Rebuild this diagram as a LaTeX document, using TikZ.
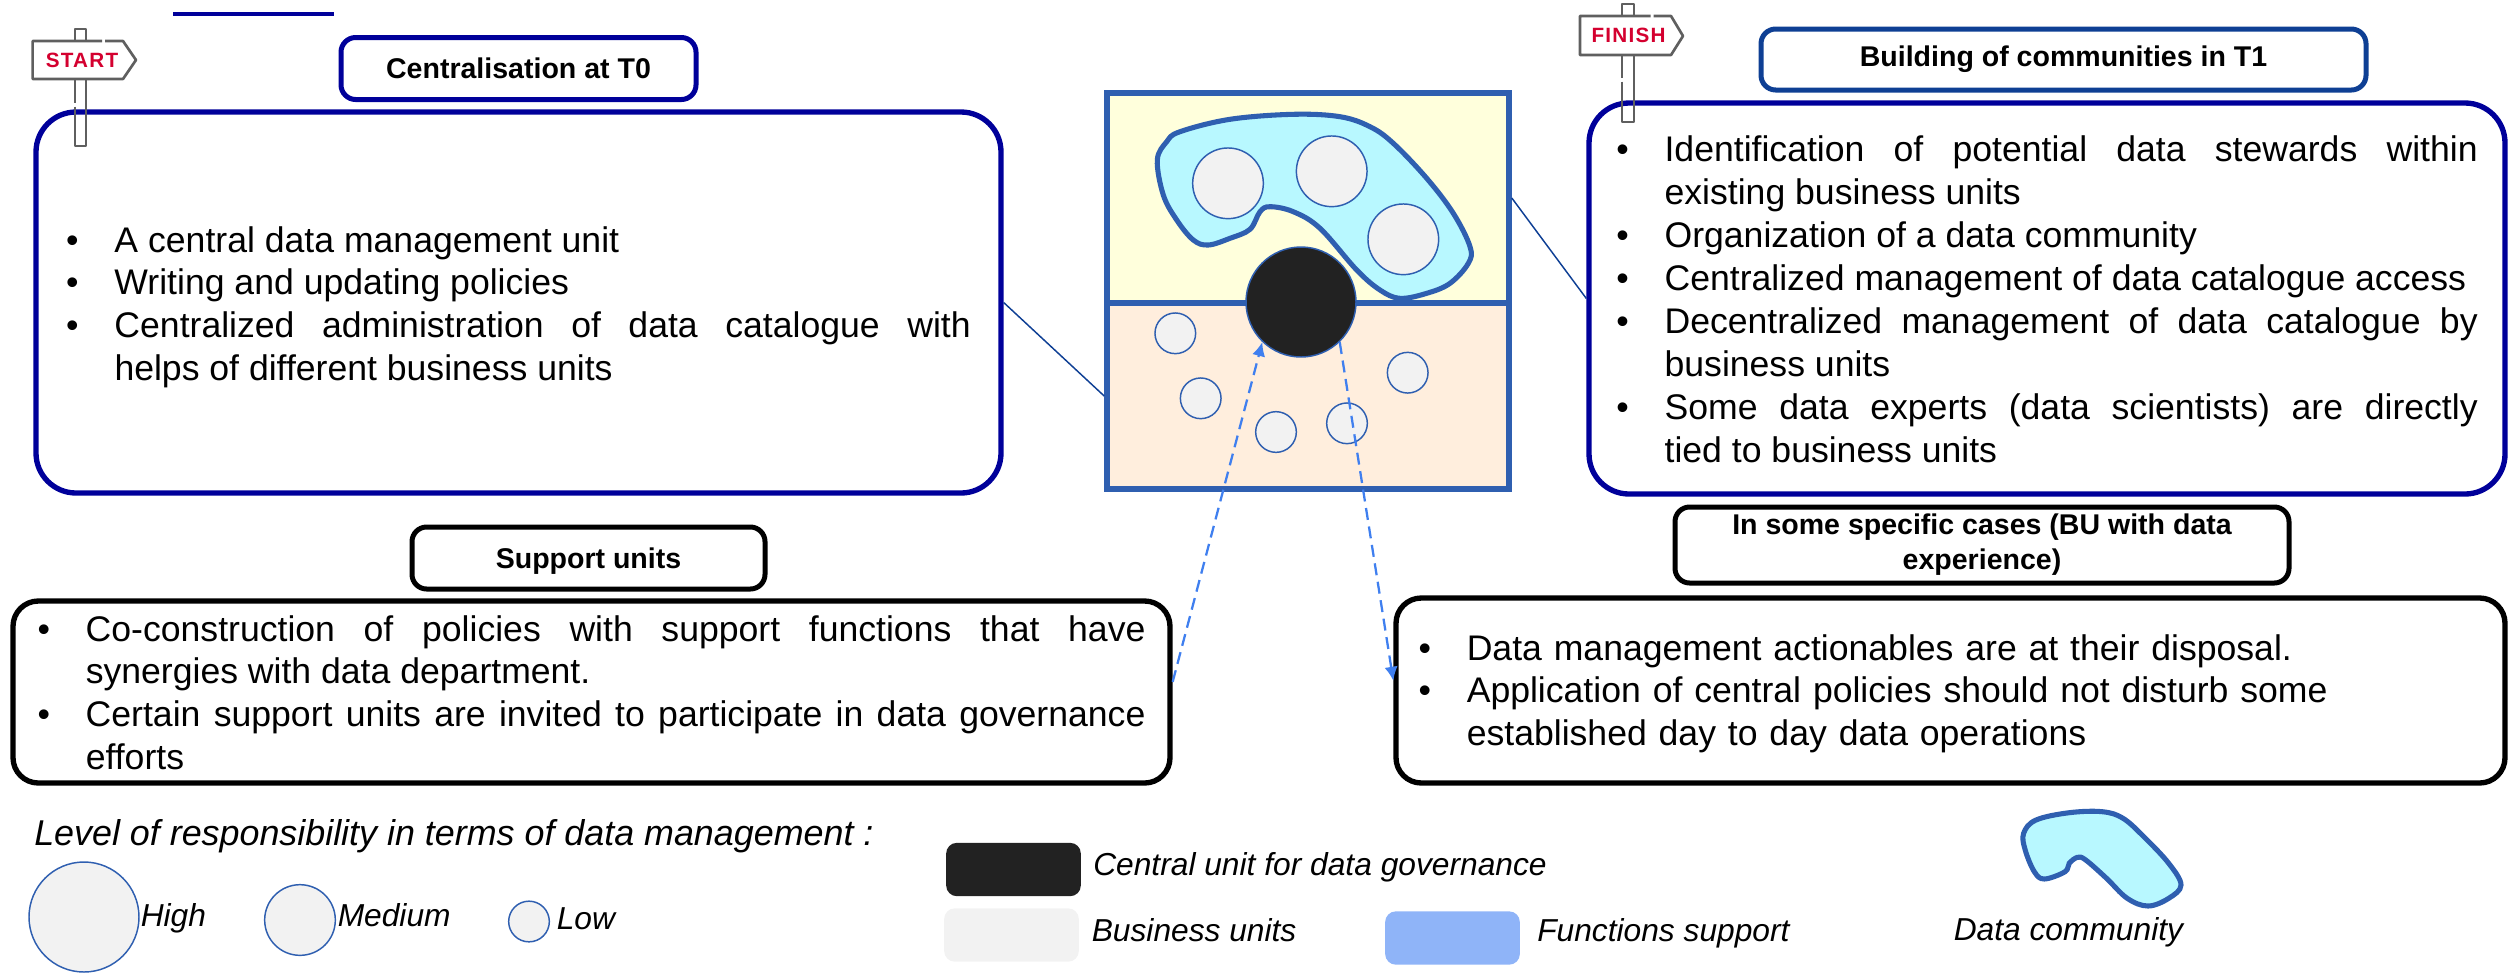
\documentclass[tikz,border=0pt]{standalone}
\usepackage{fontspec}
\usepackage{xcolor}
\usetikzlibrary{arrows.meta}
\setmainfont{Liberation Sans}
\newfontfamily\signfont[LetterSpace=6]{Liberation Sans}
\definecolor{navyline}{HTML}{00009A}
\definecolor{headline}{HTML}{0E3F94}
\definecolor{squareline}{HTML}{2F5FB0}
\definecolor{upperfill}{HTML}{FFFFDC}
\definecolor{lowerfill}{HTML}{FFEEDD}
\definecolor{aquafill}{HTML}{B8F8FF}
\definecolor{unitfill}{HTML}{F2F2F2}
\definecolor{coalfill}{HTML}{222222}
\definecolor{dashblue}{HTML}{3F7FEF}
\definecolor{supportfill}{HTML}{8FB4F8}
\definecolor{postgray}{HTML}{5F5F5F}
\definecolor{signred}{HTML}{D4002F}
\tolerance=9999
\hyphenpenalty=10000
\newcommand{\listitem}[1]{\hangindent=36.2pt\hangafter=1\noindent\hbox to 36.2pt{\textbullet\hfil}#1\par}
\tikzset{
	listbox/.style={draw,line width=4pt,inner sep=0pt,font=\fontsize{26.7}{32.2}\selectfont},
	headbox/.style={draw,line width=3.75pt,rounded corners=11pt,inner sep=0pt,align=center,font=\bfseries\fontsize{21.4}{25.5}\selectfont},
	legendtext/.style={anchor=base west,inner sep=0pt,font=\itshape\fontsize{23.8}{28}\selectfont},
	unitdot/.style={circle,draw=squareline,fill=unitfill,line width=1.1pt,inner sep=0pt},
	legendbox/.style={rectangle,rounded corners=8pt,inner sep=0pt,minimum width=101pt,minimum height=40pt},
	signtext/.style={anchor=center,inner sep=0pt,text=signred,font=\signfont\bfseries\fontsize{15.5}{16}\selectfont},
	signline/.style={draw=postgray,line width=2pt,line join=round},
	community/.style={draw=squareline,fill=aquafill,line width=3.8pt},
	dashlink/.style={draw=dashblue,line width=1.7pt,dash pattern={on 9pt off 5pt}},
}

\begin{document}
\begin{tikzpicture}[x=0.75pt,y=0.75pt,yscale=-1,xscale=1]
	\useasboundingbox (0,0) rectangle (2509,972);
	\coordinate (ruleleft) at (173,14);
	\coordinate (ruleright) at (334,14);
	\draw [navyline,line width=3pt] (ruleleft) -- (ruleright) ;
	\draw (1308,198) node (upperpart) [rectangle,draw=squareline,fill=upperfill,line width=4.2pt,minimum width=301.5pt,minimum height=157.5pt] {};
	\draw (1308,396) node (lowerpart) [rectangle,draw=squareline,fill=lowerfill,line width=4.2pt,minimum width=301.5pt,minimum height=139.5pt] {};
	\draw [community] plot [smooth cycle,tension=0.6] coordinates {(1157.3,160) (1166.7,141.7) (1180,131.7) (1230,119.3) (1293.3,114.3) (1340,116.7) (1370,126.7) (1393.3,143.3) (1426.7,178.3) (1453.3,213.3) (1470,246.7) (1468.3,263.3) (1450,283.3) (1426.7,293.3) (1400,298.3) (1380,290) (1356.7,270) (1320,228.3) (1293.3,211.7) (1270,206.7) (1260,211.7) (1250,229.3) (1230,238.3) (1208.3,245) (1193.3,240) (1176.7,220) (1163.3,195)};
	\draw (1228,183.3) node (communityone) [unitdot,minimum size=53pt] {};
	\draw (1331.7,171.3) node (communitytwo) [unitdot,minimum size=53pt] {};
	\draw (1403.3,239.3) node (communitythree) [unitdot,minimum size=53pt] {};
	\draw (1175.3,333.3) node (unitone) [unitdot,minimum size=30.5pt] {};
	\draw (1200.7,398.3) node (unittwo) [unitdot,minimum size=30.5pt] {};
	\draw (1276,432) node (unitthree) [unitdot,minimum size=30.5pt] {};
	\draw (1347,423.3) node (unitfour) [unitdot,minimum size=30.5pt] {};
	\draw (1407.7,372.7) node (unitfive) [unitdot,minimum size=30.5pt] {};
	\draw (1301,302) node (centralunit) [circle,draw=squareline,fill=coalfill,line width=1.1pt,inner sep=0pt,minimum size=82.5pt] {};
	\draw (518.5,302.5) node (centralbox) [listbox,draw=navyline,rounded corners=30pt,minimum width=723.75pt,minimum height=285.75pt,text width=678.4pt,align=justify,text height=0pt,text depth=75.75pt] {\listitem{A central data management unit}
		\listitem{Writing and updating policies}
		\listitem{Centralized administration of data catalogue with\linebreak helps of different business units}};
	\draw (2047,298.5) node (communitybox) [listbox,draw=navyline,rounded corners=30pt,minimum width=687pt,minimum height=293.25pt,text width=646pt,align=justify,text height=0pt,text depth=205.2pt] {\listitem{Identification of potential data stewards within\linebreak existing business units}
		\listitem{Organization of a data community}
		\listitem{Centralized management of data catalogue access}
		\listitem{Decentralized management of data catalogue by\linebreak business units}
		\listitem{Some data experts (data scientists) are directly\linebreak tied to business units}};
	\draw (591.5,692) node (supportbox) [listbox,draw=black,rounded corners=19pt,minimum width=867.75pt,minimum height=136.5pt,text width=831pt,align=justify,text height=0pt,text depth=76.5pt] {\listitem{Co-construction of policies with support functions that have\linebreak synergies with data department.}
		\listitem{Certain support units are invited to participate in data governance\linebreak efforts}};
	\draw (1950.5,690.5) node (casesbox) [listbox,draw=black,rounded corners=19pt,minimum width=831.75pt,minimum height=138.75pt,text width=798pt,align=left,text height=0pt,text depth=45.75pt] {\listitem{Data management actionables are at their disposal.}
		\listitem{Application of central policies should not disturb some\newline established day to day data operations}};
	\draw (518.5,68.5) node (centralhead) [headbox,draw=navyline,minimum width=266.25pt,minimum height=46.5pt] {Centralisation at T0};
	\draw (2063.5,59.5) node (communityhead) [headbox,draw=headline,minimum width=453.75pt,minimum height=45.75pt] {Building of communities in T1};
	\draw (588.5,558) node (supporthead) [headbox,draw=black,text depth=0pt,minimum width=264.75pt,minimum height=46.5pt] {Support units};
	\draw (1982,545) node (caseshead) [headbox,draw=black,minimum width=460.5pt,minimum height=57pt] {In some specific cases (BU with data\\[0.8pt]experience)};
	\draw [headline,line width=1.1pt] (centralbox.east) -- (lowerpart.west) ;
	\draw [headline,line width=1.1pt] (upperpart.east) -- (communitybox.west) ;
	\draw [dashlink,-{Latex[length=10.5pt,width=10pt]}] (supportbox.1) -- (centralunit.226) ;
	\draw [dashlink,-{Latex[length=10.5pt,width=10pt]}] (centralunit.314) -- (casesbox.179.6) ;
	\draw [signline,fill=white] (105,41) -- (123,41) -- (136,60) -- (123,79) -- (32.6,79) -- (32.6,41) -- (102,41) ;
	\draw [signline] (75,41) -- (75,29) -- (86,29) -- (86,41) ;
	\draw [signline] (75,79) -- (75,103) ;
	\draw [signline] (75,106.5) -- (75,146) -- (86,146) -- (86,79) ;
	\draw (82,60.5) node (starttext) [signtext] {START};
	\draw [signline,fill=white] (1653.5,16) -- (1671,16) -- (1683,36) -- (1671,55) -- (1580,55) -- (1580,16) -- (1650.5,16) ;
	\draw [signline] (1622,16) -- (1622,4) -- (1634,4) -- (1634,16) ;
	\draw [signline] (1622,55) -- (1622,78) ;
	\draw [signline] (1622,81.5) -- (1622,122) -- (1634,122) -- (1634,55) ;
	\draw (1628.5,35.5) node (finishtext) [signtext] {FINISH};
	\draw (34,845) node (leveltext) [legendtext,font=\itshape\fontsize{26.9}{30}\selectfont] {Level of responsibility in terms of data management :};
	\draw (84,917) node (highdot) [unitdot,minimum size=82.5pt] {};
	\draw (300,920) node (mediumdot) [unitdot,minimum size=53pt] {};
	\draw (529,921.5) node (lowdot) [unitdot,minimum size=30.5pt] {};
	\draw (140.5,926) node (hightext) [legendtext] {High};
	\draw (337.5,926) node (mediumtext) [legendtext] {Medium};
	\draw (556.5,929) node (lowtext) [legendtext] {Low};
	\draw (1013.5,869.5) node (coalbox) [legendbox,fill=coalfill] {};
	\draw (1093,875) node (coaltext) [legendtext] {Central unit for data governance};
	\draw (1011.5,935) node (unitbox) [legendbox,fill=unitfill] {};
	\draw (1091.5,941) node (unittext) [legendtext] {Business units};
	\draw (1452.5,938) node (supportkey) [legendbox,fill=supportfill] {};
	\draw (1537,941) node (supporttext) [legendtext] {Functions support};
	\draw [community] plot [smooth cycle,tension=0.6] coordinates {(2023.6,833.3) (2036,820) (2069.2,812.7) (2102.3,811.7) (2123,818.3) (2143.8,836.7) (2168.7,863.3) (2181,885) (2168.7,898.3) (2148,906) (2127.2,898.3) (2106.5,878.3) (2085.7,860) (2077.5,857.3) (2069.2,863.3) (2065,871.7) (2044.3,879) (2034.3,871.7) (2025.2,850)};
	\draw (1953.5,940) node (communitytext) [legendtext] {Data community};
\end{tikzpicture}
\end{document}
